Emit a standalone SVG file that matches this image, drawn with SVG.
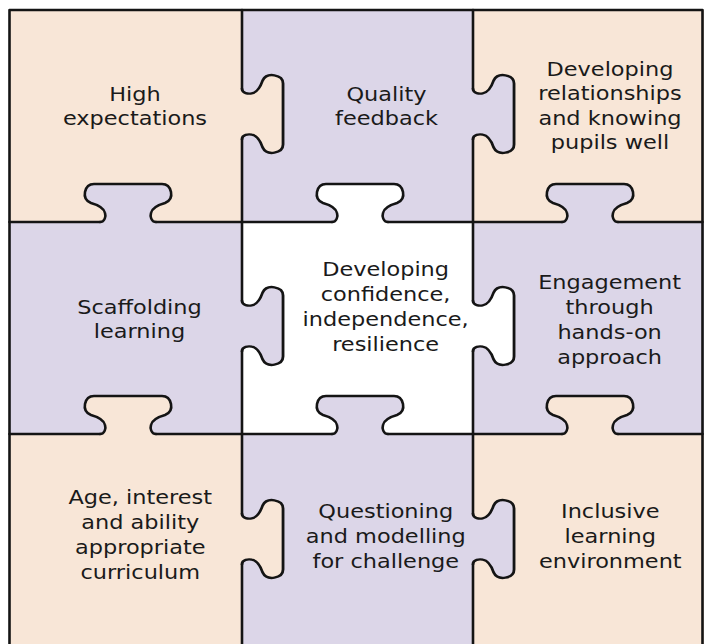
<svg xmlns="http://www.w3.org/2000/svg" xmlns:xlink="http://www.w3.org/1999/xlink" width="704" height="644" viewBox="0 0 704 644">
<style>
.peach{fill:#F8E6D7}
.lav{fill:#DCD6E8}
.white{fill:#FFFFFF}
.ln{fill:none;stroke:#141414;stroke-width:2.6;stroke-linecap:round;stroke-linejoin:round}
.tl{fill:none;stroke:#141414;stroke-width:2.6;stroke-linecap:round;stroke-linejoin:round;vector-effect:non-scaling-stroke}
text{font-family:"DejaVu Sans",Verdana,sans-serif;font-size:19px;fill:#1a1a1a;text-anchor:middle}
</style>
<defs>
<path id="tabFill" d="M-28,0 C-23,0 -22,-6 -23,-9 C-24,-14 -30,-17 -37,-19 C-42,-21 -44,-25 -43,-30 C-42,-35 -39,-38 -34,-38 L34,-38 C39,-38 42,-35 43,-30 C44,-25 42,-21 37,-19 C30,-17 24,-14 23,-9 C22,-6 23,0 28,0 Z"/>
<path id="tabLine" d="M-28,0 C-23,0 -22,-6 -23,-9 C-24,-14 -30,-17 -37,-19 C-42,-21 -44,-25 -43,-30 C-42,-35 -39,-38 -34,-38 L34,-38 C39,-38 42,-35 43,-30 C44,-25 42,-21 37,-19 C30,-17 24,-14 23,-9 C22,-6 23,0 28,0"/>
</defs>
<g id="cells">
<rect class="peach" x="9" y="10" width="233" height="212"/>
<rect class="lav" x="242" y="10" width="231" height="212"/>
<rect class="peach" x="473" y="10" width="231" height="212"/>
<rect class="lav" x="9" y="222" width="233" height="212"/>
<rect class="white" x="242" y="222" width="231" height="212"/>
<rect class="lav" x="473" y="222" width="231" height="212"/>
<rect class="peach" x="9" y="434" width="233" height="212"/>
<rect class="lav" x="242" y="434" width="231" height="212"/>
<rect class="peach" x="473" y="434" width="231" height="212"/>
</g>
<g id="tab-fills">
<use xlink:href="#tabFill" class="lav" transform="translate(128,222)"/>
<use xlink:href="#tabFill" class="white" transform="translate(360,222)"/>
<use xlink:href="#tabFill" class="lav" transform="translate(590,222)"/>
<use xlink:href="#tabFill" class="peach" transform="translate(128,434)"/>
<use xlink:href="#tabFill" class="lav" transform="translate(360,434)"/>
<use xlink:href="#tabFill" class="peach" transform="translate(590,434)"/>
<use xlink:href="#tabFill" class="peach" transform="translate(242,114) rotate(90) scale(0.9,1.08)"/>
<use xlink:href="#tabFill" class="lav" transform="translate(242,326) rotate(90) scale(0.9,1.08)"/>
<use xlink:href="#tabFill" class="peach" transform="translate(242,539) rotate(90) scale(0.9,1.08)"/>
<use xlink:href="#tabFill" class="lav" transform="translate(473,114) rotate(90) scale(0.9,1.08)"/>
<use xlink:href="#tabFill" class="white" transform="translate(473,326) rotate(90) scale(0.9,1.08)"/>
<use xlink:href="#tabFill" class="lav" transform="translate(473,539) rotate(90) scale(0.9,1.08)"/>
</g>
<g id="connectors">
<path class="ln" d="M9.5,650 V10 H702.5 V650"/>
<path class="ln" d="M9.5,222 H100 M156,222 H332 M388,222 H562 M618,222 H702.5"/>
<path class="ln" d="M9.5,434 H100 M156,434 H332 M388,434 H562 M618,434 H702.5"/>
<path class="ln" d="M242,10 V88.8 M242,139.2 V300.8 M242,351.2 V513.8 M242,564.2 V650"/>
<path class="ln" d="M473,10 V88.8 M473,139.2 V300.8 M473,351.2 V513.8 M473,564.2 V650"/>
<use xlink:href="#tabLine" class="tl" transform="translate(128,222)"/>
<use xlink:href="#tabLine" class="tl" transform="translate(360,222)"/>
<use xlink:href="#tabLine" class="tl" transform="translate(590,222)"/>
<use xlink:href="#tabLine" class="tl" transform="translate(128,434)"/>
<use xlink:href="#tabLine" class="tl" transform="translate(360,434)"/>
<use xlink:href="#tabLine" class="tl" transform="translate(590,434)"/>
<use xlink:href="#tabLine" class="tl" transform="translate(242,114) rotate(90) scale(0.9,1.08)"/>
<use xlink:href="#tabLine" class="tl" transform="translate(242,326) rotate(90) scale(0.9,1.08)"/>
<use xlink:href="#tabLine" class="tl" transform="translate(242,539) rotate(90) scale(0.9,1.08)"/>
<use xlink:href="#tabLine" class="tl" transform="translate(473,114) rotate(90) scale(0.9,1.08)"/>
<use xlink:href="#tabLine" class="tl" transform="translate(473,326) rotate(90) scale(0.9,1.08)"/>
<use xlink:href="#tabLine" class="tl" transform="translate(473,539) rotate(90) scale(0.9,1.08)"/>
</g>
<g id="high-expectations" transform="translate(135,0) scale(1.18,1)">
<text x="0" y="101">High</text>
<text x="0" y="125.5">expectations</text>
</g>
<g id="quality-feedback" transform="translate(386.5,0) scale(1.18,1)">
<text x="0" y="101">Quality</text>
<text x="0" y="125.5">feedback</text>
</g>
<g id="developing-relationships" transform="translate(610,0) scale(1.18,1)">
<text x="0" y="76">Developing</text>
<text x="0" y="100.5">relationships</text>
<text x="0" y="125">and knowing</text>
<text x="0" y="149.5">pupils well</text>
</g>
<g id="scaffolding-learning" transform="translate(139.5,0) scale(1.18,1)">
<text x="0" y="314">Scaffolding</text>
<text x="0" y="338.5">learning</text>
</g>
<g id="developing-confidence" transform="translate(385.6,0) scale(1.18,1)">
<text x="0" y="276">Developing</text>
<text x="0" y="301">confidence,</text>
<text x="0" y="326">independence,</text>
<text x="0" y="351">resilience</text>
</g>
<g id="engagement" transform="translate(609.6,0) scale(1.18,1)">
<text x="0" y="289.5">Engagement</text>
<text x="0" y="314">through</text>
<text x="0" y="339">hands-on</text>
<text x="0" y="364">approach</text>
</g>
<g id="age-interest" transform="translate(140.3,0) scale(1.18,1)">
<text x="0" y="504">Age, interest</text>
<text x="0" y="529">and ability</text>
<text x="0" y="554">appropriate</text>
<text x="0" y="579">curriculum</text>
</g>
<g id="questioning" transform="translate(385.8,0) scale(1.18,1)">
<text x="0" y="518">Questioning</text>
<text x="0" y="543">and modelling</text>
<text x="0" y="568">for challenge</text>
</g>
<g id="inclusive" transform="translate(610.3,0) scale(1.18,1)">
<text x="0" y="518">Inclusive</text>
<text x="0" y="543">learning</text>
<text x="0" y="568">environment</text>
</g>
</svg>
